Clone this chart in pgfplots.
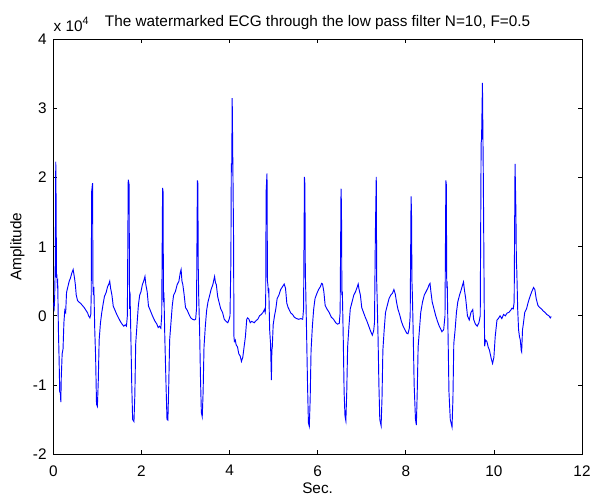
\documentclass[border=0pt]{standalone}
\usepackage{fontspec}
\setmainfont{Liberation Sans}
\usepackage{pgfplots}
\pgfplotsset{compat=1.18}
\newcommand{\fs}{\fontsize{11.5}{13.8}\selectfont}
\begin{document}
\begin{tikzpicture}
\path[use as bounding box] (0,0) rectangle (443.25pt,371.25pt);
\begin{axis}[
  at={(40pt,30.75pt)}, anchor=south west,
  scale only axis, width=396.5pt, height=310.9pt,
  xmin=0, xmax=12, ymin=-2, ymax=4,
  xtick={0,2,...,12}, ytick={-2,-1,...,4},
  tick align=inside, tick pos=both, major tick length=3pt,
  tick style={black, line width=0.5pt},
  axis line style={black, line width=0.6pt},
  /pgf/number format/assume math mode=true,
  ticklabel style={font=\fs},
  xticklabel style={yshift=-5pt},
  yticklabel style={xshift=-1.5pt},
  clip=true,
]
\addplot[blue, line width=0.7pt] coordinates {
(0.00,0.19)(0.02,0.12)(0.03,0.25)(0.045,0.8)(0.055,2.23)(0.065,1.5)(0.07,0.55)(0.08,0.6)(0.09,0.45)(0.10,0.48)(0.115,-0.2)(0.13,-0.6)(0.145,-1.1)(0.16,-1.12)(0.17,-1.25)(0.18,-0.9)(0.2,-0.55)(0.22,-0.48)(0.24,-0.1)(0.26,0.08)(0.28,0.05)(0.30,0.34)(0.33,0.42)(0.36,0.5)(0.39,0.55)(0.42,0.62)(0.45,0.67)(0.48,0.55)(0.50,0.45)(0.52,0.30)(0.55,0.22)(0.58,0.2)(0.62,0.18)(0.66,0.15)(0.70,0.12)(0.74,0.08)(0.78,0.04)(0.80,0.0)(0.83,-0.03)(0.85,0.02)
(0.86,0.3)(0.87,1.8)(0.89,1.92)(0.90,0.4)(0.91,0.3)(0.92,0.42)(0.94,-0.2)(0.96,-0.6)(0.98,-1.28)(1.00,-1.31)(1.02,-0.95)(1.04,-0.35)(1.07,-0.1)(1.10,0.05)(1.13,0.17)(1.16,0.28)(1.2,0.34)(1.23,0.42)(1.26,0.46)(1.28,0.50)(1.30,0.40)(1.33,0.30)(1.36,0.14)(1.40,0.08)(1.44,0.02)(1.48,-0.03)(1.52,-0.08)(1.56,-0.12)(1.60,-0.15)(1.63,-0.13)(1.66,-0.15)
(1.68,0.0)(1.70,1.97)(1.72,1.9)(1.73,0.1)(1.74,0.35)(1.76,-0.3)(1.78,-1.0)(1.80,-1.5)(1.83,-1.53)(1.85,-1.15)(1.87,-0.4)(1.90,-0.12)(1.93,0.15)(1.96,0.3)(1.99,0.35)(2.02,0.45)(2.05,0.5)(2.08,0.57)(2.10,0.45)(2.13,0.35)(2.16,0.14)(2.20,0.08)(2.25,0.0)(2.30,-0.07)(2.35,-0.12)(2.38,-0.17)(2.41,-0.15)(2.44,-0.18)
(2.46,0.0)(2.48,1.85)(2.49,1.80)(2.50,0.2)(2.51,0.34)(2.53,-0.3)(2.56,-1.05)(2.58,-1.5)(2.60,-1.51)(2.62,-1.0)(2.64,-0.35)(2.67,-0.1)(2.70,0.15)(2.73,0.3)(2.77,0.35)(2.81,0.45)(2.85,0.5)(2.88,0.62)(2.90,0.67)(2.92,0.5)(2.94,0.45)(2.97,0.3)(3.0,0.12)(3.04,0.08)(3.08,0.02)(3.12,-0.03)(3.16,-0.05)(3.20,-0.06)(3.23,-0.05)
(3.25,0.1)(3.27,1.96)(3.28,1.92)(3.29,0.68)(3.30,0.28)(3.32,-0.2)(3.34,-0.9)(3.36,-1.4)(3.38,-1.46)(3.40,-1.1)(3.42,-0.45)(3.45,-0.15)(3.48,0.08)(3.51,0.2)(3.55,0.3)(3.58,0.38)(3.62,0.45)(3.66,0.57)(3.68,0.48)(3.70,0.45)(3.73,0.28)(3.76,0.2)(3.80,0.1)(3.84,0.05)(3.88,-0.05)(3.92,-0.08)(3.96,-0.10)(3.99,-0.05)
(4.01,0.0)(4.03,0.8)(4.04,2.2)(4.05,2.2)(4.06,3.15)(4.07,2.5)(4.09,1.2)(4.10,-0.3)(4.11,-0.37)(4.13,-0.35)(4.15,-0.42)(4.18,-0.45)(4.21,-0.55)(4.24,-0.58)(4.27,-0.66)(4.30,-0.6)(4.33,-0.45)(4.36,-0.3)(4.39,-0.05)(4.41,-0.03)(4.44,-0.05)(4.47,-0.1)(4.50,-0.08)(4.53,-0.09)(4.56,-0.10)(4.60,-0.07)(4.64,-0.05)(4.68,0.0)(4.72,0.02)(4.76,0.05)(4.79,0.09)(4.81,0.05)
(4.82,0.2)(4.83,1.8)(4.85,2.06)(4.86,0.5)(4.87,0.45)(4.88,0.33)(4.89,0.4)(4.91,-0.2)(4.93,-0.4)(4.95,-0.93)(4.96,-0.5)(4.97,-0.45)(4.99,-0.13)(5.02,0.0)(5.05,0.1)(5.08,0.25)(5.12,0.3)(5.16,0.38)(5.20,0.42)(5.24,0.46)(5.27,0.40)(5.30,0.18)(5.33,0.12)(5.36,0.08)(5.39,0.04)(5.43,0.02)(5.47,-0.02)(5.52,-0.04)(5.57,-0.05)(5.62,-0.04)(5.66,-0.05)
(5.68,0.1)(5.70,2.01)(5.71,1.9)(5.72,0.6)(5.73,0.35)(5.75,-0.3)(5.77,-1.0)(5.79,-1.55)(5.81,-1.60)(5.83,-1.2)(5.85,-0.5)(5.88,-0.15)(5.91,0.1)(5.94,0.25)(5.98,0.32)(6.02,0.38)(6.06,0.42)(6.09,0.47)(6.11,0.46)(6.14,0.35)(6.17,0.15)(6.21,0.1)(6.26,0.05)(6.31,-0.02)(6.36,-0.05)(6.41,-0.1)(6.45,-0.12)(6.49,-0.11)
(6.51,0.05)(6.53,1.84)(6.54,1.6)(6.55,0.3)(6.56,0.35)(6.58,-0.3)(6.60,-1.1)(6.62,-1.45)(6.64,-1.52)(6.66,-1.1)(6.68,-0.45)(6.71,-0.15)(6.74,0.1)(6.78,0.2)(6.82,0.3)(6.86,0.35)(6.90,0.42)(6.92,0.46)(6.94,0.38)(6.97,0.3)(7.00,0.12)(7.04,0.05)(7.08,-0.02)(7.12,-0.08)(7.16,-0.15)(7.20,-0.22)(7.24,-0.28)(7.27,-0.22)
(7.29,-0.1)(7.31,1.2)(7.33,2.01)(7.34,0.5)(7.35,0.25)(7.37,-0.3)(7.39,-1.0)(7.41,-1.5)(7.44,-1.59)(7.46,-1.2)(7.48,-0.5)(7.51,-0.2)(7.54,0.05)(7.58,0.15)(7.62,0.25)(7.66,0.3)(7.70,0.33)(7.73,0.38)(7.76,0.32)(7.79,0.2)(7.82,0.1)(7.86,0.02)(7.90,-0.08)(7.94,-0.15)(7.98,-0.2)(8.02,-0.25)(8.05,-0.26)(8.08,-0.18)
(8.10,0.0)(8.12,1.73)(8.13,1.5)(8.14,0.5)(8.15,0.3)(8.17,-0.3)(8.19,-1.0)(8.22,-1.5)(8.24,-1.58)(8.26,-1.1)(8.28,-0.45)(8.31,-0.2)(8.34,0.05)(8.38,0.2)(8.42,0.3)(8.46,0.35)(8.50,0.40)(8.53,0.45)(8.55,0.47)(8.57,0.35)(8.60,0.2)(8.64,0.1)(8.68,0.0)(8.72,-0.08)(8.76,-0.15)(8.80,-0.2)(8.82,-0.23)(8.86,-0.2)
(8.89,0.0)(8.91,1.96)(8.92,1.9)(8.93,0.4)(8.94,0.5)(8.96,-0.3)(8.98,-1.1)(9.01,-1.5)(9.05,-1.61)(9.07,-1.2)(9.09,-0.4)(9.12,-0.2)(9.15,0.05)(9.18,0.2)(9.22,0.3)(9.26,0.38)(9.29,0.45)(9.31,0.49)(9.33,0.38)(9.36,0.25)(9.40,0.0)(9.44,-0.06)(9.48,0.05)(9.52,0.09)(9.54,-0.05)(9.58,-0.12)(9.62,-0.15)(9.66,-0.1)
(9.69,0.0)(9.71,2.5)(9.72,2.55)(9.74,3.37)(9.76,2.0)(9.78,0.2)(9.79,-0.44)(9.81,-0.35)(9.84,-0.37)(9.87,-0.45)(9.90,-0.5)(9.94,-0.62)(9.97,-0.69)(10.00,-0.6)(10.03,-0.3)(10.07,-0.06)(10.10,-0.04)(10.14,0.0)(10.18,-0.04)(10.22,0.02)(10.26,0.0)(10.30,0.04)(10.34,0.05)(10.38,0.08)(10.41,0.11)(10.44,0.1)
(10.46,0.2)(10.48,2.20)(10.50,1.5)(10.51,0.8)(10.52,0.65)(10.54,0.1)(10.56,-0.2)(10.58,-0.3)(10.60,-0.35)(10.62,-0.5)(10.63,-0.52)(10.65,-0.2)(10.67,-0.11)(10.70,0.05)(10.74,0.1)(10.78,0.2)(10.82,0.28)(10.86,0.35)(10.90,0.41)(10.93,0.38)(10.96,0.25)(11.00,0.15)(11.04,0.12)(11.08,0.1)(11.12,0.07)(11.16,0.05)(11.20,0.02)(11.25,0.0)(11.28,-0.03)(11.30,-0.01)
};
\end{axis}
\node[anchor=base, font=\fs, inner sep=0pt] at (238.2pt,351.2pt) {The watermarked ECG through the low pass filter N=10, F=0.5};
\node[anchor=base west, font=\fs, inner sep=0pt] at (40pt,347.5pt) {x 10\raisebox{0.45em}{\fontsize{8}{9}\selectfont 4}};
\node[anchor=base, font=\fs, inner sep=0pt] at (238.2pt,1.5pt) {Sec.};
\node[rotate=90, font=\fs, inner sep=0pt] at (13.1pt,186.2pt) {Amplitude};
\end{tikzpicture}
\end{document}
